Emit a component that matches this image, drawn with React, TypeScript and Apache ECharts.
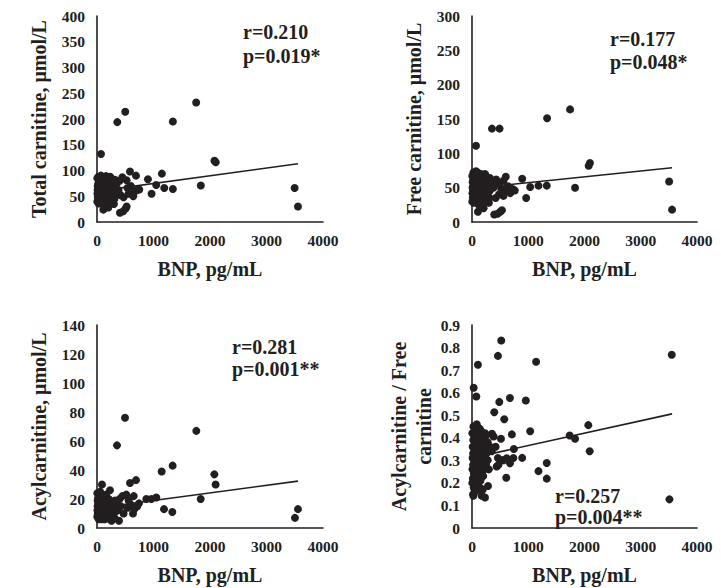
import React, { useEffect, useRef } from "react";
import * as echarts from "echarts";

// ---- Data ----
const xTicks = [0, 1000, 2000, 3000, 4000];
const xAxisTitle = "BNP, pg/mL";

const totalTitle = "Total carnitine, μmol/L";
const totalStats = ["r=0.210", "p=0.019*"];
const totalFit = [[10, 60], [3557, 113]];
const totalData = [
  [5, 40], [8, 55], [10, 62], [12, 70], [6, 85], [15, 48], [18, 58], [20, 66], [22, 75], [25, 88],
  [30, 36], [32, 52], [35, 60], [38, 68], [40, 80], [45, 44], [48, 57], [50, 63], [52, 72], [55, 86],
  [60, 39], [62, 50], [65, 61], [68, 77], [70, 90], [75, 46], [78, 54], [80, 65], [82, 70], [85, 83],
  [90, 42], [92, 59], [95, 67], [98, 74], [100, 88], [110, 38], [112, 51], [115, 62], [118, 80],
  [130, 47], [132, 56], [135, 69], [138, 85], [150, 41], [152, 58], [155, 64], [158, 76], [160, 89],
  [175, 49], [178, 60], [180, 72], [182, 86], [200, 44], [202, 55], [205, 66], [208, 80],
  [225, 52], [228, 63], [230, 74], [232, 88], [250, 46], [252, 58], [255, 70], [258, 84],
  [280, 50], [282, 62], [285, 78], [310, 45], [312, 57], [315, 68], [318, 82],
  [120, 33], [160, 35], [240, 40], [300, 35],
  [71, 132], [359, 194], [500, 214], [1343, 195], [1755, 232], [2079, 119], [2102, 116], [1837, 71],
  [3498, 66], [3557, 30], [1148, 94], [901, 83], [1048, 72], [966, 55], [1190, 66], [1343, 64],
  [584, 98], [690, 90], [748, 63], [642, 50], [406, 18], [465, 21], [506, 26], [524, 30], [112, 24],
  [200, 28], [448, 87], [524, 81], [600, 70], [660, 58], [710, 62], [560, 55], [470, 48], [420, 52],
  [380, 62], [350, 75], [400, 80], [540, 66],
];

const freeTitle = "Free carnitine, μmol/L";
const freeStats = ["r=0.177", "p=0.048*"];
const freeFit = [[10, 49], [3557, 79]];
const freeData = [
  [5, 30], [8, 42], [10, 50], [12, 58], [6, 67], [15, 36], [18, 45], [20, 52], [22, 62], [25, 72],
  [30, 28], [32, 40], [35, 47], [38, 55], [40, 65], [45, 33], [48, 44], [50, 50], [52, 58], [55, 70],
  [60, 30], [62, 38], [65, 48], [68, 60], [70, 74], [75, 35], [78, 42], [80, 52], [82, 57], [85, 66],
  [90, 32], [92, 46], [95, 53], [98, 60], [100, 72], [110, 28], [112, 40], [115, 49], [118, 63],
  [130, 36], [132, 44], [135, 55], [138, 68], [150, 31], [152, 45], [155, 51], [158, 60], [160, 70],
  [175, 38], [178, 47], [180, 57], [182, 68], [200, 34], [202, 43], [205, 52], [208, 63],
  [225, 40], [228, 49], [230, 58], [232, 70], [250, 36], [252, 45], [255, 55], [258, 66],
  [280, 39], [282, 48], [285, 61], [310, 35], [312, 45], [315, 53], [318, 64],
  [120, 25], [160, 27], [240, 30], [300, 28],
  [71, 111], [355, 136], [490, 136], [1335, 151], [1743, 164], [2074, 82], [2097, 86], [1832, 50],
  [3504, 59], [3557, 18], [892, 63], [963, 35], [1034, 51], [1182, 53], [1329, 53], [396, 11],
  [455, 12], [502, 15], [532, 17], [106, 15], [207, 20], [430, 62], [470, 55], [520, 48], [560, 60],
  [600, 45], [640, 52], [680, 42], [720, 48], [760, 46], [560, 38], [480, 40], [420, 35], [380, 50],
  [600, 66], [350, 58],
];

const acylTitle = "Acylcarnitine, μmol/L";
const acylStats = ["r=0.281", "p=0.001**"];
const acylFit = [[10, 13.8], [3557, 32.3]];
const acylData = [
  [5, 8], [8, 12], [10, 15], [12, 19], [6, 24], [15, 10], [18, 13], [20, 17], [22, 21], [25, 9],
  [30, 6], [32, 11], [35, 14], [38, 18], [40, 23], [45, 8], [48, 12], [50, 16], [52, 20], [55, 25],
  [60, 7], [62, 10], [65, 14], [68, 18], [70, 22], [75, 9], [78, 12], [80, 15], [82, 19], [85, 6],
  [90, 8], [92, 13], [95, 17], [98, 21], [100, 11], [110, 7], [112, 12], [115, 16], [118, 20],
  [130, 9], [132, 13], [135, 17], [138, 6], [150, 8], [152, 12], [155, 15], [158, 19], [160, 23],
  [175, 7], [178, 11], [180, 14], [182, 18], [200, 9], [202, 12], [205, 16], [208, 20],
  [225, 6], [228, 10], [230, 14], [232, 18], [250, 8], [252, 12], [255, 16], [258, 5],
  [280, 9], [282, 13], [285, 17], [310, 7], [312, 11], [315, 15], [318, 19],
  [88, 30], [20, 20], [60, 24], [354, 57], [496, 76], [584, 31], [690, 33], [1145, 39], [1339, 43],
  [1758, 67], [2077, 37], [2100, 30], [1835, 20], [1186, 13], [1333, 11], [3504, 7], [3557, 13],
  [230, 26], [448, 22], [519, 23], [873, 20], [962, 20], [1050, 21], [743, 17], [714, 15], [637, 10],
  [389, 5], [360, 12], [420, 15], [470, 10], [540, 14], [600, 16], [660, 13], [350, 18], [400, 20],
  [560, 19], [650, 22],
];

const ratioTitle = "Acylcarnitine / Free\ncarnitine";
const ratioStats = ["r=0.257", "p=0.004**"];
const ratioFit = [[10, 0.311], [3557, 0.506]];
const ratioData = [
  [520, 0.831], [461, 0.763], [106, 0.724], [1140, 0.737], [3551, 0.768], [30, 0.622], [77, 0.583],
  [674, 0.576], [957, 0.565], [485, 0.559], [396, 0.513], [573, 0.482], [1034, 0.429], [709, 0.415],
  [514, 0.396], [355, 0.418], [384, 0.406], [2068, 0.456], [1737, 0.41], [1832, 0.396], [2092, 0.34],
  [744, 0.35], [892, 0.311], [1182, 0.252], [1329, 0.288], [1329, 0.219], [609, 0.223], [3510, 0.127],
  [439, 0.273], [528, 0.3], [617, 0.309], [676, 0.287], [735, 0.31], [284, 0.186], [231, 0.135],
  [172, 0.143], [24, 0.143], [300, 0.26], [350, 0.34], [420, 0.36], [460, 0.31], [560, 0.3],
  [470, 0.28], [250, 0.41], [280, 0.38], [320, 0.36],
  [5, 0.2], [8, 0.26], [10, 0.31], [12, 0.36], [6, 0.42], [15, 0.22], [18, 0.28], [20, 0.33],
  [22, 0.39], [25, 0.45], [30, 0.18], [32, 0.24], [35, 0.3], [38, 0.35], [40, 0.41], [45, 0.21],
  [48, 0.27], [50, 0.32], [52, 0.37], [55, 0.44], [60, 0.19], [62, 0.25], [65, 0.3], [68, 0.34],
  [70, 0.4], [75, 0.23], [78, 0.29], [80, 0.33], [82, 0.38], [85, 0.46], [90, 0.2], [92, 0.27],
  [95, 0.31], [98, 0.36], [100, 0.42], [110, 0.22], [112, 0.28], [115, 0.33], [118, 0.39],
  [130, 0.24], [132, 0.3], [135, 0.35], [138, 0.44], [150, 0.21], [152, 0.27], [155, 0.32],
  [158, 0.37], [160, 0.43], [175, 0.25], [178, 0.31], [180, 0.36], [182, 0.41], [200, 0.23],
  [202, 0.29], [205, 0.34], [208, 0.4], [225, 0.26], [228, 0.31], [230, 0.37], [232, 0.42],
  [250, 0.28], [255, 0.33], [280, 0.3], [285, 0.35], [20, 0.15], [50, 0.16], [100, 0.17],
  [140, 0.18], [190, 0.17],
];

const totalY = { min: 0, max: 400, interval: 50 };
const freeY = { min: 0, max: 300, interval: 50 };
const acylY = { min: 0, max: 140, interval: 20 };
const ratioY = { min: 0, max: 0.9, interval: 0.1 };

const INK = "#231f20";
const FONT = "'Liberation Serif', 'Times New Roman', serif";

export default function App() {
  const ref = useRef<HTMLDivElement>(null);

  useEffect(() => {
    if (!ref.current) return;
    const chart = echarts.init(ref.current, undefined, { renderer: "svg" });

    const panels = [
      { grid: { left: 97, top: 16, width: 226, height: 206 }, y: totalY, title: totalTitle, gap: 46, data: totalData, fit: totalFit, stats: totalStats, statPos: [243, 33, 57] },
      { grid: { left: 472, top: 16, width: 225, height: 206 }, y: freeY, title: freeTitle, gap: 46, data: freeData, fit: freeFit, stats: freeStats, statPos: [610, 40, 63] },
      { grid: { left: 97, top: 325, width: 226, height: 208 }, y: acylY, title: acylTitle, gap: 46, data: acylData, fit: acylFit, stats: acylStats, statPos: [232, 348, 370] },
      { grid: { left: 472, top: 325, width: 225, height: 208 }, y: ratioY, title: ratioTitle, gap: 34, data: ratioData, fit: ratioFit, stats: ratioStats, statPos: [555, 497, 518] },
    ];

    const labelStyle = { color: INK, fontFamily: FONT, fontWeight: "bold" as const, fontSize: 15.5 };
    const nameStyle = { color: INK, fontFamily: FONT, fontWeight: "bold" as const, fontSize: 20, lineHeight: 25 };
    const axisLine = { show: true, lineStyle: { color: INK, width: 1.6 } };

    const option: any = {
      animation: false,
      backgroundColor: "#ffffff",
      grid: panels.map((p) => ({ ...p.grid, containLabel: false })),
      xAxis: panels.map((p, i) => ({
        type: "value",
        gridIndex: i,
        min: xTicks[0],
        max: xTicks[xTicks.length - 1],
        interval: xTicks[1] - xTicks[0],
        axisLine,
        axisTick: { show: false },
        splitLine: { show: false },
        axisLabel: { ...labelStyle, margin: 10, formatter: (v: number) => String(v) },
        name: xAxisTitle,
        nameLocation: "middle",
        nameGap: 34,
        nameTextStyle: nameStyle,
      })),
      yAxis: panels.map((p, i) => ({
        type: "value",
        gridIndex: i,
        min: p.y.min,
        max: p.y.max,
        interval: p.y.interval,
        axisLine,
        axisTick: { show: false },
        splitLine: { show: false },
        axisLabel: { ...labelStyle, margin: 12, formatter: (v: number) => String(Math.round(v * 10) / 10) },
        name: p.title,
        nameLocation: "middle",
        nameGap: p.gap,
        nameTextStyle: nameStyle,
      })),
      series: panels.flatMap((p, i) => [
        {
          type: "scatter",
          xAxisIndex: i,
          yAxisIndex: i,
          data: p.data,
          symbol: "circle",
          symbolSize: 8,
          itemStyle: { color: INK, opacity: 1 },
          z: 3,
        },
        {
          type: "line",
          xAxisIndex: i,
          yAxisIndex: i,
          data: p.fit,
          showSymbol: false,
          symbol: "none",
          lineStyle: { color: INK, width: 1.6 },
          z: 4,
        },
      ]),
      graphic: panels.flatMap((p) =>
        p.stats.map((s, k) => ({
          type: "text",
          left: p.statPos[0],
          top: p.statPos[k + 1] - 11,
          style: { text: s, fill: INK, font: `bold 20px ${FONT}` },
        }))
      ),
    };

    chart.setOption(option);
    return () => chart.dispose();
  }, []);

  return (
    <div
      ref={ref}
      style={{ position: "fixed", left: 0, top: 0, width: 721, height: 588, background: "#fff" }}
    />
  );
}
